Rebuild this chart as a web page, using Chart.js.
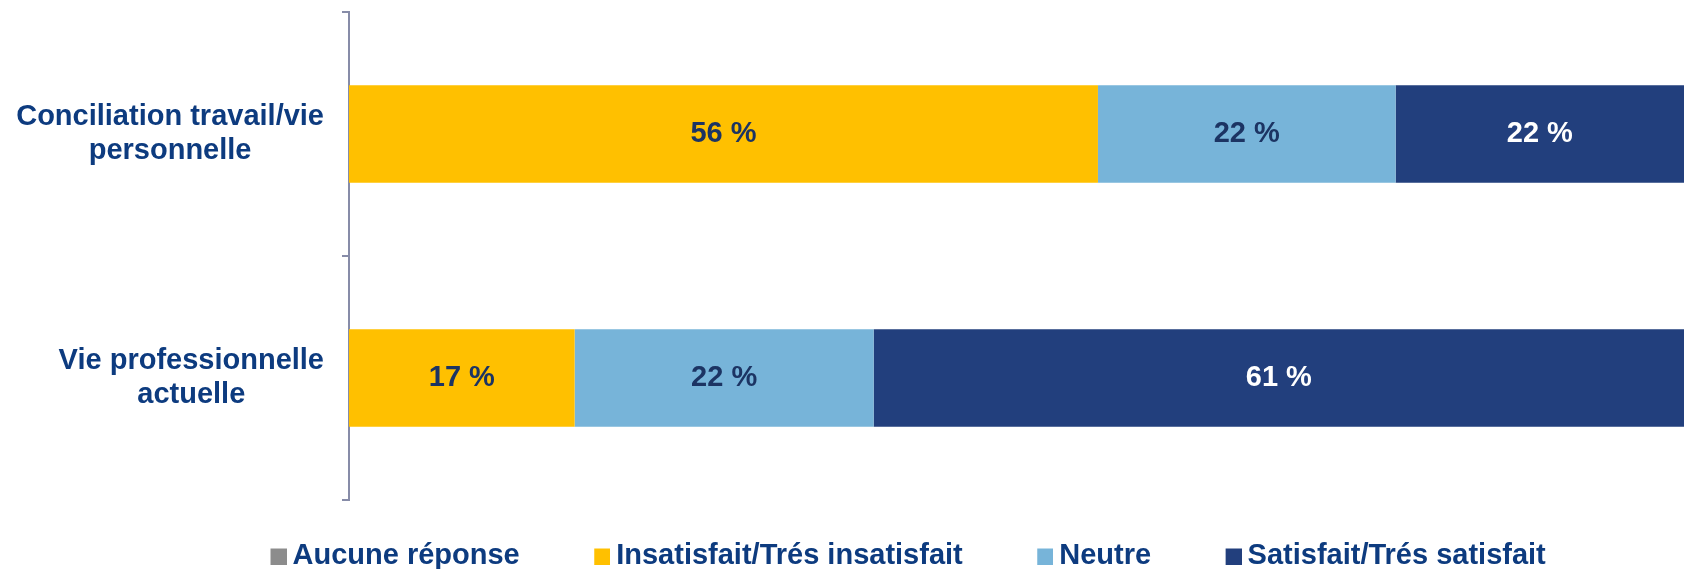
<!DOCTYPE html>
<html>
<head>
<meta charset="utf-8">
<script src="https://cdn.jsdelivr.net/npm/chart.js@4"></script>
<style>
  html, body { margin: 0; padding: 0; background: #fff; }
  canvas { display: block; }
</style>
</head>
<body>
<canvas id="satisfactionChart" width="1684" height="569"></canvas>
<script>
const categories = [['Conciliation travail/vie', 'personnelle'], ['Vie professionnelle', 'actuelle']];
const seriesNames = ['Aucune réponse', 'Insatisfait/Trés insatisfait', 'Neutre', 'Satisfait/Trés satisfait'];
// shares in % (labels show them rounded)
const aucuneReponse = [0, 0];
const insatisfait = [56.1, 16.9];
const neutre = [22.3, 22.4];
const satisfait = [21.6, 60.7];

const FONT = 'Arial, "Liberation Sans", sans-serif';
const NAVY_TEXT = '#0D3B7F';
const AXIS_COLOR = '#878CA8';

Chart.defaults.font.family = FONT;

// square legend marker with empty room on its left, so the text sits close to it
function legendSquare(color) {
    const c = document.createElement('canvas');
    c.width = 58;
    c.height = 18;
    const g = c.getContext('2d');
    g.fillStyle = color;
    g.fillRect(42, 2, 16, 16);
    return c;
}

// y labels: block right-aligned against the axis, lines centered inside it
const categoryLabels = {
    id: 'categoryLabels',
    afterDraw(chart) {
        const { ctx, chartArea } = chart;
        const yScale = chart.scales.y;
        ctx.save();
        ctx.font = 'bold 29px ' + FONT;
        ctx.fillStyle = NAVY_TEXT;
        ctx.textAlign = 'center';
        ctx.textBaseline = 'alphabetic';
        categories.forEach((lines, i) => {
            const y = yScale.getPixelForValue(i);
            const widest = Math.max(...lines.map(l => ctx.measureText(l).width));
            const cx = chartArea.left - 25 - widest / 2;
            ctx.fillText(lines[0], cx, y - 9);
            ctx.fillText(lines[1], cx, y + 25);
        });
        ctx.restore();
    }
};

// percentage inside each segment
const segmentLabels = {
    id: 'segmentLabels',
    afterDatasetsDraw(chart) {
        const { ctx } = chart;
        ctx.save();
        ctx.font = 'bold 29px ' + FONT;
        ctx.textAlign = 'center';
        ctx.textBaseline = 'middle';
        chart.data.datasets.forEach((ds, di) => {
            const meta = chart.getDatasetMeta(di);
            meta.data.forEach((bar, i) => {
                const v = ds.data[i];
                if (!v) return;
                ctx.fillStyle = ds.labelColor;
                ctx.fillText(Math.round(v) + ' %', (bar.x + bar.base) / 2, bar.y);
            });
        });
        ctx.restore();
    }
};

new Chart(document.getElementById('satisfactionChart'), {
    type: 'bar',
    data: {
        labels: categories,
        datasets: [
            { label: seriesNames[0], data: aucuneReponse, backgroundColor: '#8C8C8C', labelColor: '#1C3463' },
            { label: seriesNames[1], data: insatisfait, backgroundColor: '#FFC000', labelColor: '#1C3463' },
            { label: seriesNames[2], data: neutre, backgroundColor: '#77B4D9', labelColor: '#1C3463' },
            { label: seriesNames[3], data: satisfait, backgroundColor: '#223F7D', labelColor: '#FFFFFF' }
        ]
    },
    options: {
        indexAxis: 'y',
        responsive: false,
        animation: false,
        categoryPercentage: 0.8,
        barPercentage: 0.5,
        layout: { padding: { top: 12, left: 196, right: 0, bottom: 0 } },
        scales: {
            x: { stacked: true, display: false, min: 0, max: 100 },
            y: {
                stacked: true,
                ticks: { display: false },
                grid: {
                    offset: true,
                    drawOnChartArea: false,
                    drawTicks: true,
                    tickLength: 7,
                    lineWidth: 2,
                    color: AXIS_COLOR
                },
                border: { display: true, color: AXIS_COLOR, width: 2 },
                afterFit(scale) { scale.width = 153; }
            }
        },
        plugins: {
            tooltip: { enabled: false },
            legend: {
                position: 'bottom',
                align: 'start',
                maxHeight: 69,
                labels: {
                    usePointStyle: true,
                    pointStyleWidth: 41,
                    boxHeight: 16,
                    padding: 41,
                    color: NAVY_TEXT,
                    font: { size: 29, weight: 'bold' },
                    generateLabels(chart) {
                        return Chart.defaults.plugins.legend.labels.generateLabels(chart)
                            .map(item => ({ ...item, pointStyle: legendSquare(item.fillStyle) }));
                    }
                }
            }
        }
    },
    plugins: [categoryLabels, segmentLabels]
});
</script>
</body>
</html>
